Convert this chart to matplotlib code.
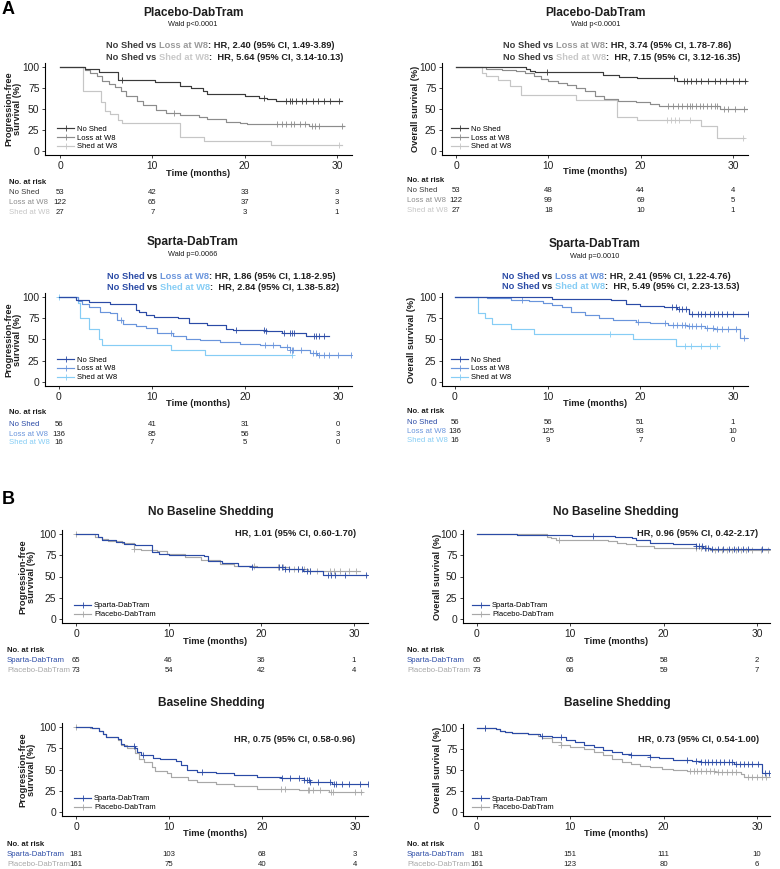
import numpy as np
import matplotlib
matplotlib.use("Agg")
import matplotlib.pyplot as plt
from matplotlib.lines import Line2D
from matplotlib import transforms

plt.rcParams['font.family'] = ['Liberation Sans', 'DejaVu Sans']

W, H = 780, 869
ticks_x = [0, 10, 20, 30]

# ---- A, Placebo-DabTram, PFS ----
pp_ns_t = [0, 2.7, 4.2, 6.3, 10.3, 13.0, 14.2, 15.5, 15.9, 20.0, 21.6, 22.4, 23.4]
pp_ns_s = [100, 98, 94, 85, 82, 78, 75.5, 71.5, 67.6, 65, 63.6, 61.7, 60]
pp_ns_c = [6.7, 22.1, 24.5, 24.9, 25.1, 25.6, 26.2, 26.6, 27.4, 27.9, 28.6, 29.2, 30.2]
pp_lw_t = [0, 2.7, 3.3, 4.0, 4.6, 5.3, 6.0, 6.6, 7.2, 8.3, 9.0, 10.4, 11.5, 13.0, 15.0, 15.9, 18.0, 19.5, 20.2, 27.0]
pp_lw_s = [100, 97, 93, 89, 84, 80, 76, 72, 66, 60, 55, 49, 45, 43, 41, 38, 35, 33, 32, 30]
pp_lw_c = [12.3, 23.5, 24.0, 24.5, 25.0, 25.3, 26.0, 26.5, 27.3, 27.6, 28.0, 30.5]
pp_sh_t = [0, 2.5, 4.4, 4.9, 5.4, 6.3, 6.7, 13.0, 15.6, 22.8]
pp_sh_s = [100, 71, 58, 48, 44, 37, 33, 16, 12, 7.5]
pp_sh_c = [30.2]
pp_risk = [[53, 42, 33, 3], [122, 65, 37, 3], [27, 7, 3, 1]]

# ---- A, Placebo-DabTram, OS ----
po_ns_t = [0, 7.6, 8.0, 8.6, 15.9, 17.7, 19.6, 23.9]
po_ns_s = [100, 98, 96, 94, 90.5, 88.5, 86.5, 84]
po_ns_c = [9.9, 23.6, 24.7, 25.0, 25.4, 26.0, 26.5, 27.3, 28.0, 28.6, 29.2, 30.0, 30.6, 31.3]
po_lw_t = [0, 3.3, 5.0, 6.5, 7.5, 8.5, 9.2, 10.0, 11.0, 12.0, 13.0, 14.0, 15.0, 16.0, 17.5, 18.5, 19.5, 21.0, 22.0, 28.6]
po_lw_s = [100, 98, 97, 95, 93, 90, 86, 83, 81, 79, 75, 71, 66, 62, 60, 59, 58, 56, 54, 50]
po_lw_c = [23.0, 23.5, 24.0, 24.5, 25.0, 25.3, 25.6, 26.0, 26.4, 26.8, 27.2, 27.6, 28.0, 28.3, 29.0, 29.5, 30.2, 31.2]
po_sh_t = [0, 2.8, 3.3, 4.5, 5.9, 7.0, 13.0, 17.4, 19.6, 26.5, 28.3]
po_sh_s = [100, 93, 89, 85, 78, 67, 61, 41, 37, 30, 15]
po_sh_c = [22.9, 23.3, 23.7, 24.2, 25.3, 31.1]
po_risk = [[53, 48, 44, 4], [122, 99, 69, 5], [27, 18, 10, 1]]

# ---- A, Sparta-DabTram, PFS ----
sp_ns_t = [0, 1.8, 3.2, 5.5, 8.3, 8.6, 9.4, 10.2, 12.8, 14.0, 15.9, 18.0, 18.7, 22.3, 24.0, 26.6]
sp_ns_s = [100, 97, 94, 92, 85, 82, 79, 77, 75, 69, 67, 63, 61, 60, 58, 54]
sp_ns_c = [19.0, 22.0, 22.3, 24.2, 24.8, 25.0, 25.3, 27.4, 27.6, 28.0, 28.5]
sp_lw_t = [0, 2.0, 2.5, 3.2, 4.4, 5.5, 6.2, 6.9, 8.3, 9.4, 10.5, 12.3, 13.7, 15.2, 17.3, 19.5, 21.6, 23.8, 24.8, 25.3, 27.0, 27.7]
sp_lw_s = [100, 96, 92, 89, 83, 81, 73, 68, 66, 64, 58, 54, 51, 49, 47, 45, 43, 41, 38, 37, 34.5, 32]
sp_lw_c = [6.7, 12.0, 22.2, 23.0, 24.5, 24.8, 25.0, 25.2, 26.0, 27.3, 27.6, 28.0, 28.5, 29.0, 30.0, 31.4]
sp_sh_t = [0, 2.0, 2.3, 3.2, 4.3, 4.6, 12.0, 15.7]
sp_sh_s = [100, 93.75, 75, 62.5, 50, 43.75, 37.5, 31.25]
sp_sh_c = [0, 25.0]
sp_risk = [[56, 41, 31, 0], [136, 85, 56, 3], [16, 7, 5, 0]]

# ---- A, Sparta-DabTram, OS ----
so_ns_t = [0, 10.5, 16.8, 18.5, 20.0, 22.5, 24.0, 25.2]
so_ns_s = [100, 98.2, 96.5, 92.5, 90, 88.6, 86.6, 80.7]
so_ns_c = [23.4, 23.8, 24.2, 24.5, 24.9, 25.6, 26.2, 26.6, 27.0, 27.5, 28.0, 28.4, 28.8, 29.4, 30.0, 31.6]
so_lw_t = [0, 3.5, 6.0, 8.0, 9.5, 10.5, 11.5, 12.5, 14.0, 15.5, 17.0, 19.5, 21.0, 23.0, 25.0, 27.0, 28.0, 30.8]
so_lw_s = [100, 99, 97, 95, 93, 91, 88, 83, 79, 75, 73, 71, 69, 67, 66, 64, 62, 52]
so_lw_c = [7.2, 19.8, 22.7, 23.5, 24.0, 24.5, 24.8, 25.2, 25.6, 26.0, 26.5, 27.2, 27.8, 28.3, 28.8, 29.5, 30.3, 31.2, 31.8]
so_sh_t = [0, 2.5, 3.2, 4.0, 6.0, 8.5, 19.2, 23.9]
so_sh_s = [100, 81.25, 75, 68.75, 62.5, 56.25, 50, 42.9]
so_sh_c = [16.7, 24.8, 25.5, 26.5, 27.5, 28.3]
so_risk = [[56, 56, 51, 1], [136, 125, 93, 10], [16, 9, 7, 0]]

# ---- B, No Baseline Shedding, PFS ----
nbp_sp_t = [0, 2.4, 2.8, 4.3, 5.2, 6.4, 8.2, 9.0, 10.0, 13.8, 14.2, 15.8, 17.5, 19.0, 22.5, 24.5, 26.7]
nbp_sp_s = [100, 97, 93, 91, 89, 87, 79, 77, 76, 74, 68, 66, 63, 61, 59, 57, 52]
nbp_sp_c = [19.0, 21.9, 22.2, 22.5, 23.0, 24.0, 24.4, 24.9, 25.2, 27.2, 27.5, 28.0, 29.0, 31.3]
nbp_pl_t = [0, 2.0, 2.8, 3.5, 5.0, 6.3, 7.0, 8.7, 9.8, 11.8, 13.5, 15.5, 17.0, 19.5, 23.0, 25.0]
nbp_pl_s = [100, 97, 94, 92, 90, 82, 81, 80, 77, 73, 70, 65, 63, 61, 59, 56]
nbp_pl_c = [0, 6.3, 19.2, 21.8, 22.3, 23.5, 24.0, 24.6, 25.3, 26.0, 27.4, 27.8, 28.5, 29.5, 30.2]
nbp_risk = [[65, 46, 36, 1], [73, 54, 42, 4]]

# ---- B, No Baseline Shedding, OS ----
nbo_sp_t = [0, 4.3, 10.2, 14.8, 16.6, 17.0, 18.5, 21.0, 23.5, 24.2, 25.0]
nbo_sp_s = [100, 99, 98, 97, 95, 93, 90, 88, 86, 84, 82]
nbo_sp_c = [12.4, 23.5, 23.8, 24.1, 24.4, 24.8, 25.2, 25.8, 26.4, 27.0, 27.5, 28.0, 28.5, 29.0, 30.5, 31.6]
nbo_pl_t = [0, 7.5, 7.9, 8.5, 14.0, 15.0, 16.0, 17.0, 19.0, 25.0]
nbo_pl_s = [100, 97, 95, 93, 92, 90, 88.5, 86.5, 84, 81]
nbo_pl_c = [8.8, 23.5, 24.0, 24.5, 25.5, 26.2, 26.8, 27.3, 27.8, 28.3, 28.8, 29.5, 30.4, 31.2]
nbo_risk = [[65, 65, 58, 2], [73, 66, 59, 7]]

# ---- B, Baseline Shedding, PFS ----
bp_sp_t = [0, 1.7, 2.5, 2.9, 3.2, 4.5, 4.8, 5.2, 6.3, 6.6, 7.0, 8.3, 9.0, 10.8, 11.3, 11.9, 13.0, 15.0, 17.0, 19.5, 22.0, 24.5, 25.2, 27.5]
bp_sp_s = [100, 98.5, 96, 92, 88, 86, 80, 78, 76, 71, 67.5, 64, 62, 60, 55, 50, 47, 45.5, 43.5, 41.5, 39.5, 38, 35.5, 32.5]
bp_sp_c = [6.2, 7.2, 13.6, 22.1, 23.0, 24.0, 24.5, 24.8, 25.0, 25.2, 26.0, 27.3, 27.7, 28.0, 28.6, 29.4, 30.5, 31.4]
bp_pl_t = [0, 1.5, 2.5, 2.9, 3.2, 4.5, 4.8, 5.5, 6.3, 6.8, 7.3, 8.2, 8.5, 9.8, 10.2, 12.0, 13.0, 15.0, 17.0, 19.5, 24.0, 27.2]
bp_pl_s = [100, 98.5, 96, 92, 88, 85, 79, 76, 69, 63, 59, 53, 48, 45.5, 41.5, 37.5, 35.5, 33, 30, 26.5, 25.5, 23]
bp_pl_c = [0, 22.0, 22.5, 24.9, 25.1, 25.5, 26.2, 27.4, 27.6, 30.0, 30.6]
bp_risk = [[181, 103, 68, 3], [161, 75, 40, 4]]

# ---- B, Baseline Shedding, OS ----
bo_sp_t = [0, 2.0, 2.5, 3.0, 3.8, 5.5, 6.8, 8.0, 9.5, 10.5, 11.5, 12.5, 13.5, 14.5, 15.5, 16.5, 18.5, 19.5, 21.0, 23.0, 24.0, 25.5, 27.5, 30.5]
bo_sp_s = [100, 99, 97, 96, 94, 93, 91, 89, 86, 84, 80, 77, 74, 71, 69, 67.5, 66, 64, 62, 61, 60, 59, 57, 47]
bo_sp_c = [0.9, 7.0, 9.0, 16.5, 18.5, 22.5, 23.5, 24.0, 24.4, 24.8, 25.2, 25.6, 26.0, 26.5, 27.0, 27.3, 27.8, 28.2, 28.6, 29.0, 29.5, 30.1, 30.9, 31.3]
bo_pl_t = [0, 2.0, 2.5, 3.0, 3.8, 5.5, 6.5, 7.0, 8.0, 9.0, 10.0, 11.5, 12.5, 13.5, 14.5, 15.5, 16.5, 17.5, 18.5, 19.8, 21.0, 22.5, 25.5, 28.3, 28.6]
bo_pl_s = [100, 99, 97, 96, 94, 93, 91, 88, 84, 80, 77, 75, 71, 68, 63, 60, 57, 55, 53, 51.5, 50, 49, 48, 45, 42]
bo_pl_c = [0.9, 9.0, 22.8, 23.2, 23.6, 24.0, 24.5, 25.0, 25.4, 25.8, 26.3, 26.8, 27.3, 27.8, 29.0, 29.5, 30.0, 30.5, 31.0, 31.6]
bo_risk = [[181, 151, 111, 10], [161, 123, 80, 6]]

labels3 = ["No Shed", "Loss at W8", "Shed at W8"]
labels2 = ["Sparta-DabTram", "Placebo-DabTram"]
gray3 = ['#3a3a3a', '#8c8c8c', '#c6c6c6']
blue3 = ['#2b4ba6', '#6a95dc', '#86cdf5']
col2 = ['#2b4ba6', '#a8a8a8']
TXT = '#1e1e1e'

fig = plt.figure(figsize=(W / 100, H / 100), dpi=100)
renderer = fig.canvas.get_renderer()


def fx(x):
    return x / W


def fy(y):
    return 1 - y / H


def make_ax(l, t, r, b, x0, x30):
    ax = fig.add_axes([fx(l), fy(b), (r - l) / W, (b - t) / H])
    sc = (x30 - x0) / 30.0
    ax.set_xlim((l - x0) / sc, (r - x0) / sc)
    ax.set_ylim(-5, 105)
    for s in ['top', 'right']:
        ax.spines[s].set_visible(False)
    for s in ['left', 'bottom']:
        ax.spines[s].set_linewidth(0.8)
    ax.set_xticks(ticks_x)
    ax.set_yticks([0, 25, 50, 75, 100])
    ax.tick_params(labelsize=7.4, length=2.5, width=0.6, pad=1.5, colors='#222222')
    ax.patch.set_alpha(0)
    return ax


def surv_at(t, s, x):
    idx = np.searchsorted(t, x, side='right') - 1
    return np.asarray(s)[idx]


def km(ax, t, s, cens, end, color):
    ax.step(list(t) + [end], list(s) + [s[-1]], where='post', color=color, lw=0.85)
    ax.plot(cens, surv_at(t, s, cens), ls='none', marker='+', ms=4, mew=0.6, color=color)


def legend(ax, labels, colors, x=0.035):
    hs = [Line2D([0], [0], color=c, lw=0.85, marker='+', ms=4, mew=0.6) for c in colors]
    ax.legend(hs, labels, loc='lower left', bbox_to_anchor=(x, 0.05), frameon=False,
              fontsize=5.5, handlelength=2.2, handletextpad=0.4, labelspacing=0.2,
              borderaxespad=0.0, borderpad=0.0)


def width(s, size):
    t = fig.text(0, 0, s + '|', fontsize=size, fontweight='bold')
    w = t.get_window_extent(renderer).width
    t.remove()
    return w


def rich(x, y, parts, size=6.7):
    base = width('', size)
    pre = ''
    for s, c in parts:
        lead = len(s) - len(s.lstrip())
        pre += s[:lead]
        s = s.lstrip()
        xx = x + width(pre, size) - base
        fig.text(fx(xx), fy(y), s, color=c, fontsize=size, fontweight='bold', va='center', ha='left')
        pre += s


def titles(x, y, title, wald=None):
    fig.text(fx(x), fy(y), title, fontsize=8.6, fontweight='bold', ha='center', va='center', color=TXT)
    if wald:
        fig.text(fx(x), fy(y + 12), wald, fontsize=5.3, ha='center', va='center', color=TXT)


def risk(ax, lx, ny, rows_y, labels, colors, counts):
    fig.text(fx(lx), fy(ny), "No. at risk", fontsize=5.6, fontweight='bold', ha='left', va='center', color=TXT)
    tr = transforms.blended_transform_factory(ax.transData, fig.transFigure)
    for lab, c, ry, cnt in zip(labels, colors, rows_y, counts):
        fig.text(fx(lx), fy(ry), lab, fontsize=5.6, ha='left', va='center', color=c)
        for xv, n in zip(ticks_x, cnt):
            ax.text(xv, fy(ry), str(n), transform=tr, fontsize=5.6, ha='center', va='center', color=TXT)


def xlabel(ax, y):
    x = (ax.get_position().x0 + ax.get_position().x1) / 2
    fig.text(x, fy(y), "Time (months)", fontsize=6.7, fontweight='bold', ha='center', va='center', color=TXT)


def ylabel(x, ax, text):
    p = ax.get_position()
    yc = (p.y0 + p.y1) / 2
    fig.text(fx(x), yc, text, fontsize=6.7, fontweight='bold', rotation=90, ha='center', va='center',
             color=TXT, linespacing=1.0)


def hr(x, y, text):
    fig.text(fx(x), fy(y), text, fontsize=6.7, fontweight='bold', ha='right', va='center', color=TXT)


PFS = "Progression-free\nsurvival (%)"
OS = "Overall survival (%)"

# ----- A row 1 -----
ax = make_ax(45, 63, 352, 155, 60, 337)
km(ax, pp_sh_t, pp_sh_s, pp_sh_c, 30.5, gray3[2])
km(ax, pp_lw_t, pp_lw_s, pp_lw_c, 30.8, gray3[1])
km(ax, pp_ns_t, pp_ns_s, pp_ns_c, 30.5, gray3[0])
legend(ax, labels3, gray3, 0.04)
titles(193, 13, "Placebo-DabTram", "Wald p<0.0001")
rich(106, 46, [("No Shed", '#3a3a3a'), (" vs ", '#3a3a3a'), ("Loss at W8", '#9a9a9a'),
               (": HR, 2.40 (95% CI, 1.49-3.89)", TXT)])
rich(106, 58, [("No Shed", '#3a3a3a'), (" vs ", '#3a3a3a'), ("Shed at W8", '#c8c8c8'),
               (":  HR, 5.64 (95% CI, 3.14-10.13)", TXT)])
xlabel(ax, 173)
ylabel(13, ax, PFS)
risk(ax, 9, 183, [193, 203, 213], labels3, gray3, pp_risk)

ax = make_ax(442, 63, 748, 155, 456, 733)
km(ax, po_sh_t, po_sh_s, po_sh_c, 31.2, gray3[2])
km(ax, po_lw_t, po_lw_s, po_lw_c, 31.5, gray3[1])
km(ax, po_ns_t, po_ns_s, po_ns_c, 31.4, gray3[0])
legend(ax, labels3, gray3, 0.03)
titles(596, 13, "Placebo-DabTram", "Wald p<0.0001")
rich(503, 46, [("No Shed", '#3a3a3a'), (" vs ", '#3a3a3a'), ("Loss at W8", '#9a9a9a'),
               (": HR, 3.74 (95% CI, 1.78-7.86)", TXT)])
rich(503, 58, [("No Shed", '#3a3a3a'), (" vs ", '#3a3a3a'), ("Shed at W8", '#c8c8c8'),
               (":  HR, 7.15 (95% CI, 3.12-16.35)", TXT)])
xlabel(ax, 172)
ylabel(415, ax, OS)
risk(ax, 407, 180, [190, 200, 210], labels3, gray3, po_risk)

# ----- A row 2 -----
ax = make_ax(45, 293, 352, 386, 59, 338)
km(ax, sp_sh_t, sp_sh_s, sp_sh_c, 25.0, blue3[2])
km(ax, sp_lw_t, sp_lw_s, sp_lw_c, 31.5, blue3[1])
km(ax, sp_ns_t, sp_ns_s, sp_ns_c, 29.0, blue3[0])
legend(ax, labels3, blue3, 0.04)
titles(193, 242, "Sparta-DabTram", "Wald p=0.0066")
rich(107, 276, [("No Shed", blue3[0]), (" vs ", TXT), ("Loss at W8", blue3[1]),
                (": HR, 1.86 (95% CI, 1.18-2.95)", TXT)])
rich(107, 288, [("No Shed", blue3[0]), (" vs ", TXT), ("Shed at W8", blue3[2]),
                (":  HR, 2.84 (95% CI, 1.38-5.82)", TXT)])
xlabel(ax, 403)
ylabel(13, ax, PFS)
risk(ax, 9, 413, [424, 434, 443], labels3, blue3, sp_risk)

ax = make_ax(442, 293, 748, 386, 455, 733)
km(ax, so_sh_t, so_sh_s, so_sh_c, 28.5, blue3[2])
km(ax, so_lw_t, so_lw_s, so_lw_c, 32.0, blue3[1])
km(ax, so_ns_t, so_ns_s, so_ns_c, 31.8, blue3[0])
legend(ax, labels3, blue3, 0.03)
titles(595, 244, "Sparta-DabTram", "Wald p=0.0010")
rich(502, 276, [("No Shed", blue3[0]), (" vs ", TXT), ("Loss at W8", blue3[1]),
                (": HR, 2.41 (95% CI, 1.22-4.76)", TXT)])
rich(502, 287, [("No Shed", blue3[0]), (" vs ", TXT), ("Shed at W8", blue3[2]),
                (":  HR, 5.49 (95% CI, 2.23-13.53)", TXT)])
xlabel(ax, 403)
ylabel(412, ax, OS)
risk(ax, 407, 411, [422, 431, 441], labels3, blue3, so_risk)

# ----- B row 1 -----
ax = make_ax(62, 530, 368, 623, 76, 354)
km(ax, nbp_pl_t, nbp_pl_s, nbp_pl_c, 30.6, col2[1])
km(ax, nbp_sp_t, nbp_sp_s, nbp_sp_c, 31.4, col2[0])
legend(ax, labels2, col2, 0.04)
titles(211, 512, "No Baseline Shedding")
hr(356, 533, "HR, 1.01 (95% CI, 0.60-1.70)")
xlabel(ax, 641)
ylabel(27, ax, PFS)
risk(ax, 7, 651, [661, 671], labels2, col2, nbp_risk)

ax = make_ax(463, 530, 770, 623, 477, 757)
km(ax, nbo_pl_t, nbo_pl_s, nbo_pl_c, 31.8, col2[1])
km(ax, nbo_sp_t, nbo_sp_s, nbo_sp_c, 31.8, col2[0])
legend(ax, labels2, col2, 0.03)
titles(616, 512, "No Baseline Shedding")
hr(758, 533, "HR, 0.96 (95% CI, 0.42-2.17)")
xlabel(ax, 641)
ylabel(437, ax, OS)
risk(ax, 407, 651, [661, 671], labels2, col2, nbo_risk)

# ----- B row 2 -----
ax = make_ax(62, 723, 368, 816, 76, 355)
km(ax, bp_pl_t, bp_pl_s, bp_pl_c, 30.8, col2[1])
km(ax, bp_sp_t, bp_sp_s, bp_sp_c, 31.5, col2[0])
legend(ax, labels2, col2, 0.04)
titles(211, 703, "Baseline Shedding")
hr(355, 739, "HR, 0.75 (95% CI, 0.58-0.96)")
xlabel(ax, 833)
ylabel(27, ax, PFS)
risk(ax, 7, 844, [855, 865], labels2, col2, bp_risk)

ax = make_ax(463, 724, 770, 816, 477, 757)
km(ax, bo_pl_t, bo_pl_s, bo_pl_c, 31.8, col2[1])
km(ax, bo_sp_t, bo_sp_s, bo_sp_c, 31.5, col2[0])
legend(ax, labels2, col2, 0.03)
titles(617, 703, "Baseline Shedding")
hr(759, 739, "HR, 0.73 (95% CI, 0.54-1.00)")
xlabel(ax, 833)
ylabel(437, ax, OS)
risk(ax, 407, 844, [855, 865], labels2, col2, bo_risk)

fig.text(fx(2), fy(10), "A", fontsize=13, fontweight='bold', ha='left', va='center')
fig.text(fx(2), fy(500), "B", fontsize=13, fontweight='bold', ha='left', va='center')

fig.savefig("out.png", dpi=100)
